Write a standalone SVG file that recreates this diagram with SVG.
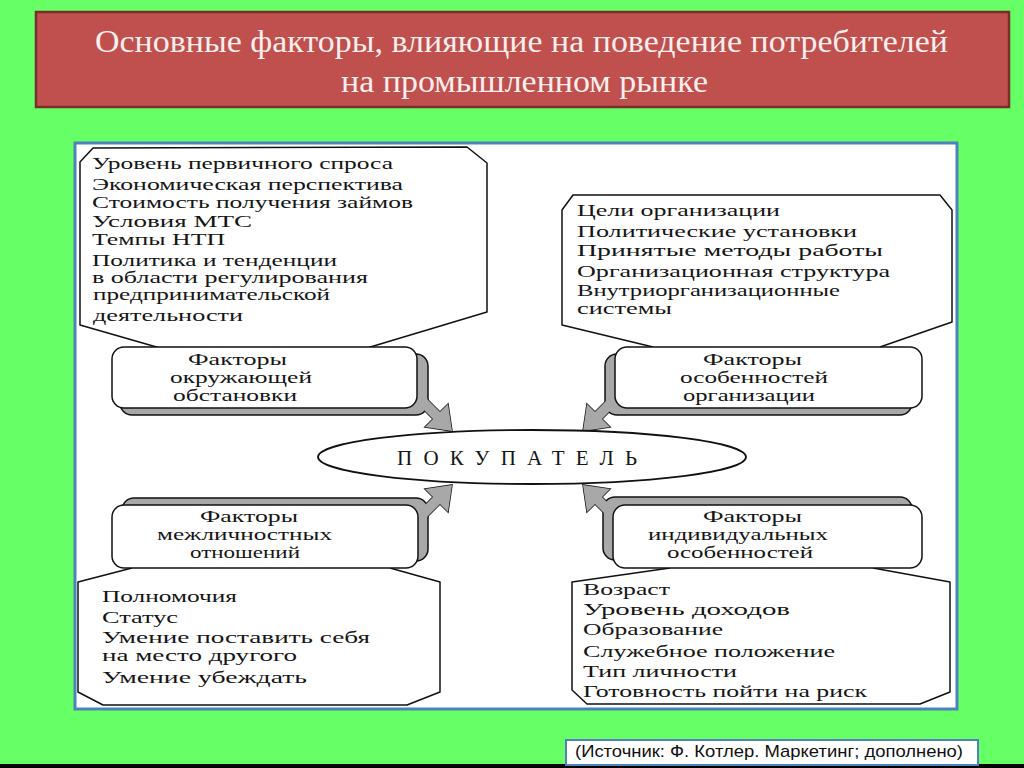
<svg xmlns="http://www.w3.org/2000/svg" xmlns:xlink="http://www.w3.org/1999/xlink" width="1024" height="768" viewBox="0 0 1024 768">
<style>
.t{font-family:"Liberation Serif","Times New Roman",serif;font-size:17px;fill:#151515}
.s{font-size:16px}
.big{font-size:21px}
.ttl{font-family:"Liberation Serif","Times New Roman",serif;font-size:32px;fill:#fbeeee}
.src{font-family:"Liberation Sans",Arial,sans-serif;font-size:17px;fill:#111}
.call{fill:#fff;stroke:#111;stroke-width:1.5;stroke-linejoin:round}
.box{fill:#fff;stroke:#111;stroke-width:1.5}
.sh{fill:#a8a8a8;stroke:#111;stroke-width:1.5}
.arr{fill:#a8a8a8;stroke:#111;stroke-width:1.5;stroke-linejoin:miter}
.patch{fill:#a8a8a8;stroke:none}
</style>
<defs>
<polygon id="arrow" points="-33,-40 -12,-19 -4,-27 0,0 -27,-4 -19,-12 -40,-33"/>
</defs>
<rect x="0" y="0" width="1024" height="768" fill="#66ff66"/>
<rect x="0" y="764" width="1024" height="4" fill="#000"/>

<g id="title">
<rect x="36" y="12" width="973" height="95" fill="#c0504d" stroke="#7a2e2c" stroke-width="2.5"/>
<text class="ttl" x="95" y="52" textLength="853" lengthAdjust="spacingAndGlyphs">Основные факторы, влияющие на поведение потребителей</text>
<text class="ttl" x="341" y="92" textLength="367" lengthAdjust="spacingAndGlyphs">на промышленном рынке</text>
</g>

<g id="panel">
<rect x="75" y="143" width="882" height="566" fill="#fff" stroke="#4f81bd" stroke-width="3"/>
</g>

<g id="connectors">
<use xlink:href="#arrow" class="arr" transform="translate(452,431)"/>
<use xlink:href="#arrow" class="arr" transform="translate(583,431) scale(-1,1)"/>
<use xlink:href="#arrow" class="arr" transform="translate(452,485) scale(1,-1)"/>
<use xlink:href="#arrow" class="arr" transform="translate(583,485) scale(-1,-1)"/>
</g>

<g id="list-environment">
<path class="call" d="M160,348 L80,325 L80,162 L93,148 L467,147 L487,163 L487,312 L367,348"/>
<text class="t" x="92" y="169" textLength="301" lengthAdjust="spacingAndGlyphs">Уровень первичного спроса</text>
<text class="t" x="92" y="190" textLength="311" lengthAdjust="spacingAndGlyphs">Экономическая перспектива</text>
<text class="t" x="92" y="208" textLength="321" lengthAdjust="spacingAndGlyphs">Стоимость получения займов</text>
<text class="t" x="92" y="227" textLength="160" lengthAdjust="spacingAndGlyphs">Условия  МТС</text>
<text class="t" x="92" y="245" textLength="133" lengthAdjust="spacingAndGlyphs">Темпы НТП</text>
<text class="t" x="92" y="266" textLength="245" lengthAdjust="spacingAndGlyphs">Политика и тенденции</text>
<text class="t" x="92" y="283" textLength="276" lengthAdjust="spacingAndGlyphs">в области  регулирования</text>
<text class="t" x="93" y="300" textLength="237" lengthAdjust="spacingAndGlyphs">предпринимательской</text>
<text class="t" x="93" y="321" textLength="150" lengthAdjust="spacingAndGlyphs">деятельности</text>
</g>

<g id="list-organization">
<path class="call" d="M653,347 L562,325 L562,210 L573,195 L940,195 L952,210 L952,322 L880,347"/>
<text class="t" x="577" y="216" textLength="203" lengthAdjust="spacingAndGlyphs">Цели  организации</text>
<text class="t" x="577" y="237" textLength="280" lengthAdjust="spacingAndGlyphs">Политические  установки</text>
<text class="t" x="577" y="256" textLength="306" lengthAdjust="spacingAndGlyphs">Принятые  методы  работы</text>
<text class="t" x="577" y="277" textLength="313" lengthAdjust="spacingAndGlyphs">Организационная  структура</text>
<text class="t s" x="577" y="296" textLength="263" lengthAdjust="spacingAndGlyphs">Внутриорганизационные</text>
<text class="t s" x="577" y="314" textLength="95" lengthAdjust="spacingAndGlyphs">системы</text>
</g>

<g id="list-interpersonal">
<path class="call" d="M132,568 L78,582 L78,692 L103,705 L407,705 L440,692 L440,582 L390,568"/>
<text class="t" x="102" y="602" textLength="135" lengthAdjust="spacingAndGlyphs">Полномочия</text>
<text class="t" x="102" y="623" textLength="76" lengthAdjust="spacingAndGlyphs">Статус</text>
<text class="t" x="102" y="643" textLength="268" lengthAdjust="spacingAndGlyphs">Умение  поставить себя</text>
<text class="t" x="102" y="661" textLength="195" lengthAdjust="spacingAndGlyphs">на  место другого</text>
<text class="t" x="102" y="683" textLength="205" lengthAdjust="spacingAndGlyphs">Умение  убеждать</text>
</g>

<g id="list-individual">
<path class="call" d="M670,568 L572,582 L572,690 L587,704 L920,704 L950,692 L950,582 L873,568"/>
<text class="t" x="583" y="595" textLength="87" lengthAdjust="spacingAndGlyphs">Возраст</text>
<text class="t" x="583" y="615" textLength="207" lengthAdjust="spacingAndGlyphs">Уровень  доходов</text>
<text class="t" x="583" y="635" textLength="140" lengthAdjust="spacingAndGlyphs">Образование</text>
<text class="t" x="583" y="657" textLength="252" lengthAdjust="spacingAndGlyphs">Служебное  положение</text>
<text class="t" x="583" y="677" textLength="154" lengthAdjust="spacingAndGlyphs">Тип  личности</text>
<text class="t" x="583" y="697" textLength="284" lengthAdjust="spacingAndGlyphs">Готовность пойти на риск</text>
</g>

<g id="factor-environment">
<rect class="sh" x="120" y="354" width="308" height="61" rx="12"/>
<use xlink:href="#arrow" class="patch" transform="translate(452,431)"/>
<rect class="box" x="112" y="347" width="305" height="61" rx="12"/>
<text class="t" x="188" y="365" textLength="99" lengthAdjust="spacingAndGlyphs">Факторы</text>
<text class="t" x="170" y="383" textLength="142" lengthAdjust="spacingAndGlyphs">окружающей</text>
<text class="t" x="173" y="401" textLength="124" lengthAdjust="spacingAndGlyphs">обстановки</text>
</g>

<g id="factor-organization">
<rect class="sh" x="605" y="354" width="307" height="61" rx="12"/>
<use xlink:href="#arrow" class="patch" transform="translate(583,431) scale(-1,1)"/>
<rect class="box" x="615" y="347" width="307" height="61" rx="12"/>
<text class="t" x="703" y="365" textLength="99" lengthAdjust="spacingAndGlyphs">Факторы</text>
<text class="t" x="680" y="383" textLength="148" lengthAdjust="spacingAndGlyphs">особенностей</text>
<text class="t" x="683" y="401" textLength="132" lengthAdjust="spacingAndGlyphs">организации</text>
</g>

<g id="factor-interpersonal">
<rect class="sh" x="122" y="498" width="306" height="63" rx="12"/>
<use xlink:href="#arrow" class="patch" transform="translate(452,485) scale(1,-1)"/>
<rect class="box" x="112" y="505" width="306" height="63" rx="12"/>
<text class="t s" x="200" y="522" textLength="98" lengthAdjust="spacingAndGlyphs">Факторы</text>
<text class="t s" x="157" y="540" textLength="175" lengthAdjust="spacingAndGlyphs">межличностных</text>
<text class="t s" x="190" y="558" textLength="110" lengthAdjust="spacingAndGlyphs">отношений</text>
</g>

<g id="factor-individual">
<rect class="sh" x="603" y="497" width="309" height="63" rx="12"/>
<use xlink:href="#arrow" class="patch" transform="translate(583,485) scale(-1,-1)"/>
<rect class="box" x="613" y="505" width="309" height="63" rx="12"/>
<text class="t s" x="703" y="522" textLength="99" lengthAdjust="spacingAndGlyphs">Факторы</text>
<text class="t s" x="648" y="540" textLength="180" lengthAdjust="spacingAndGlyphs">индивидуальных</text>
<text class="t s" x="667" y="558" textLength="146" lengthAdjust="spacingAndGlyphs">особенностей</text>
</g>

<g id="buyer">
<ellipse cx="532" cy="457" rx="214" ry="27" fill="#fff" stroke="#111" stroke-width="1.8"/>
<text class="t big" x="397" y="465" textLength="240" lengthAdjust="spacing">ПОКУПАТЕЛЬ</text>
</g>

<g id="source">
<rect x="566" y="740" width="412" height="25" fill="#fff" stroke="#4f81bd" stroke-width="2"/>
<text class="src" x="575" y="757" textLength="388" lengthAdjust="spacingAndGlyphs">(Источник: Ф. Котлер. Маркетинг; дополнено)</text>
</g>
</svg>
